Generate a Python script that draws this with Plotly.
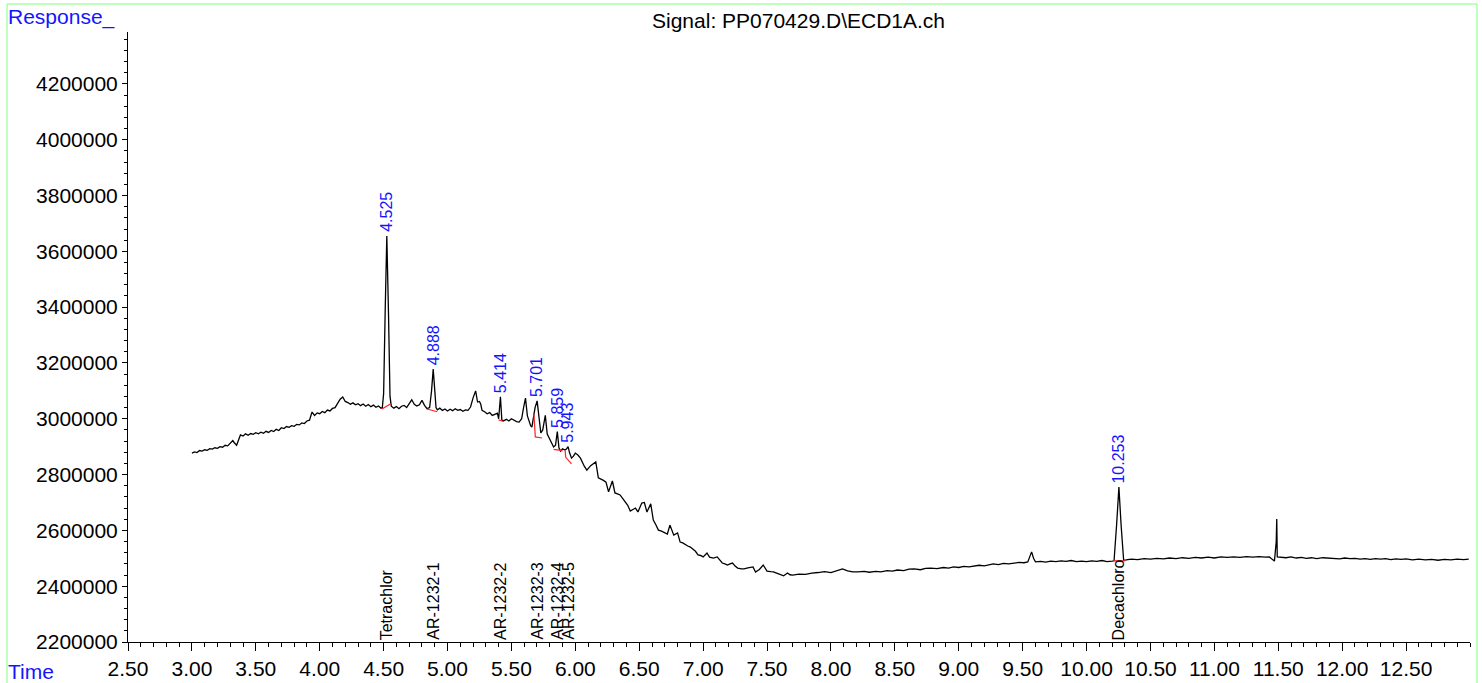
import plotly.graph_objects as go

# ---------------- data ----------------
time_min = [
    3.00, 3.02, 3.04, 3.06, 3.08, 3.10, 3.12, 3.14, 3.16, 3.18, 3.20, 3.22, 3.24, 3.26, 3.28, 3.30,
    3.32, 3.33, 3.35, 3.37, 3.38, 3.40, 3.42, 3.44, 3.46, 3.48, 3.50, 3.52, 3.54, 3.56, 3.58, 3.60,
    3.62, 3.64, 3.66, 3.68, 3.70, 3.72, 3.74, 3.76, 3.78, 3.80, 3.82, 3.84, 3.86, 3.88, 3.90, 3.92,
    3.94, 3.96, 3.98, 4.00, 4.02, 4.04, 4.06, 4.08, 4.10, 4.12, 4.14, 4.16, 4.18, 4.20, 4.22, 4.24,
    4.26, 4.28, 4.30, 4.32, 4.34, 4.36, 4.38, 4.40, 4.42, 4.44, 4.46, 4.48, 4.49, 4.50, 4.512, 4.525,
    4.538, 4.55, 4.56, 4.58, 4.60, 4.62, 4.64, 4.66, 4.68, 4.70, 4.72, 4.74, 4.76, 4.78, 4.80, 4.82,
    4.84, 4.86, 4.875, 4.888, 4.90, 4.91, 4.92, 4.94, 4.96, 4.98, 5.00, 5.02, 5.04, 5.06, 5.08, 5.10,
    5.12, 5.14, 5.16, 5.18, 5.20, 5.22, 5.235, 5.25, 5.26, 5.27, 5.29, 5.31, 5.33, 5.35, 5.37, 5.39,
    5.40, 5.414, 5.425, 5.44, 5.46, 5.48, 5.50, 5.52, 5.54, 5.56, 5.58, 5.595, 5.61, 5.625, 5.635, 5.65,
    5.66, 5.675, 5.685, 5.701, 5.715, 5.73, 5.745, 5.765, 5.78, 5.79, 5.81, 5.83, 5.845, 5.859, 5.872, 5.885,
    5.90, 5.92, 5.932, 5.943, 5.955, 5.97, 5.985, 6.00, 6.02, 6.04, 6.07, 6.09, 6.12, 6.135, 6.16, 6.18,
    6.20, 6.22, 6.24, 6.26, 6.29, 6.31, 6.33, 6.35, 6.37, 6.39, 6.41, 6.43, 6.45, 6.47, 6.49, 6.52,
    6.54, 6.56, 6.59, 6.61, 6.63, 6.65, 6.67, 6.69, 6.72, 6.74, 6.77, 6.80, 6.82, 6.84, 6.86, 6.88,
    6.90, 6.92, 6.94, 6.96, 6.98, 7.00, 7.03, 7.05, 7.08, 7.11, 7.13, 7.15, 7.17, 7.19, 7.21, 7.23,
    7.25, 7.27, 7.30, 7.32, 7.35, 7.39, 7.41, 7.44, 7.47, 7.50, 7.53, 7.55, 7.58, 7.61, 7.63, 7.66,
    7.68, 7.70, 7.75, 7.80, 7.85, 7.90, 7.95, 8.00, 8.05, 8.09, 8.13, 8.17, 8.21, 8.26, 8.30, 8.35,
    8.39, 8.44, 8.48, 8.52, 8.57, 8.61, 8.65, 8.70, 8.74, 8.78, 8.83, 8.88, 8.92, 8.96, 9.00, 9.04,
    9.08, 9.12, 9.16, 9.20, 9.24, 9.27, 9.31, 9.35, 9.39, 9.43, 9.47, 9.51, 9.54, 9.555, 9.57, 9.585,
    9.60, 9.64, 9.68, 9.72, 9.76, 9.80, 9.84, 9.88, 9.92, 9.96, 10.00, 10.04, 10.08, 10.12, 10.16, 10.20,
    10.215, 10.235, 10.253, 10.27, 10.29, 10.31, 10.35, 10.40, 10.45, 10.50, 10.55, 10.60, 10.65, 10.70, 10.75, 10.80,
    10.85, 10.90, 10.95, 11.00, 11.05, 11.10, 11.15, 11.20, 11.25, 11.30, 11.35, 11.40, 11.43, 11.45, 11.47, 11.484,
    11.488, 11.492, 11.52, 11.56, 11.60, 11.64, 11.68, 11.72, 11.76, 11.80, 11.85, 11.90, 11.94, 11.98, 12.02, 12.06,
    12.10, 12.14, 12.18, 12.22, 12.26, 12.30, 12.34, 12.38, 12.42, 12.46, 12.50, 12.55, 12.60, 12.65, 12.70, 12.75,
    12.80, 12.85, 12.90, 12.95, 12.99,
]

response = [
    2877000, 2881000, 2879000, 2886000, 2884000, 2889000, 2887000, 2893000, 2891000, 2896000, 2894000, 2900000, 2898000, 2905000, 2903000, 2913000,
    2922000, 2915000, 2905000, 2930000, 2942000, 2938000, 2946000, 2941000, 2947000, 2944000, 2950000, 2946000, 2952000, 2948000, 2955000, 2951000,
    2958000, 2954000, 2962000, 2958000, 2968000, 2965000, 2972000, 2969000, 2975000, 2973000, 2980000, 2978000, 2985000, 2983000, 2992000, 2995000,
    3024000, 3012000, 3021000, 3018000, 3026000, 3022000, 3031000, 3028000, 3037000, 3040000, 3055000, 3070000, 3078000, 3062000, 3058000, 3052000,
    3057000, 3050000, 3054000, 3047000, 3053000, 3045000, 3051000, 3043000, 3049000, 3041000, 3046000, 3038000, 3040000, 3090000, 3380000, 3655000,
    3380000, 3080000, 3045000, 3038000, 3044000, 3036000, 3045000, 3048000, 3040000, 3055000, 3068000, 3052000, 3046000, 3050000, 3066000, 3048000,
    3036000, 3040000, 3100000, 3178000, 3090000, 3040000, 3032000, 3038000, 3030000, 3035000, 3028000, 3034000, 3029000, 3036000, 3030000, 3033000,
    3027000, 3032000, 3030000, 3042000, 3075000, 3100000, 3060000, 3062000, 3052000, 3030000, 3025000, 3018000, 3022000, 3012000, 3016000, 3020000,
    3000000, 3079000, 2995000, 2993000, 2998000, 2992000, 3000000, 2994000, 2990000, 2988000, 3000000, 3040000, 3074000, 3010000, 2994000, 2975000,
    2970000, 3020000, 3040000, 3064000, 3000000, 2949000, 2960000, 3012000, 2945000, 2935000, 2915000, 2899000, 2905000, 2954000, 2895000, 2884000,
    2892000, 2888000, 2892000, 2900000, 2878000, 2859000, 2866000, 2877000, 2870000, 2859000, 2830000, 2816000, 2832000, 2838000, 2845000, 2788000,
    2784000, 2779000, 2773000, 2738000, 2777000, 2734000, 2731000, 2727000, 2715000, 2702000, 2690000, 2669000, 2676000, 2680000, 2666000, 2698000,
    2700000, 2666000, 2695000, 2637000, 2620000, 2601000, 2598000, 2594000, 2587000, 2619000, 2583000, 2591000, 2558000, 2555000, 2548000, 2544000,
    2540000, 2533000, 2525000, 2512000, 2510000, 2505000, 2519000, 2504000, 2501000, 2505000, 2492000, 2483000, 2480000, 2476000, 2480000, 2483000,
    2472000, 2465000, 2462000, 2462000, 2466000, 2469000, 2451000, 2460000, 2476000, 2454000, 2452000, 2451000, 2446000, 2440000, 2437000, 2447000,
    2441000, 2440000, 2443000, 2442000, 2447000, 2449000, 2452000, 2449000, 2456000, 2462000, 2455000, 2451000, 2451000, 2453000, 2450000, 2453000,
    2451000, 2456000, 2454000, 2458000, 2456000, 2461000, 2462000, 2459000, 2464000, 2465000, 2463000, 2467000, 2465000, 2469000, 2467000, 2471000,
    2469000, 2472000, 2475000, 2473000, 2478000, 2480000, 2477000, 2482000, 2480000, 2483000, 2485000, 2484000, 2487000, 2505000, 2523000, 2500000,
    2487000, 2489000, 2486000, 2490000, 2488000, 2491000, 2489000, 2492000, 2488000, 2490000, 2488000, 2491000, 2489000, 2492000, 2488000, 2490000,
    2491000, 2620000, 2755000, 2620000, 2493000, 2494000, 2497000, 2495000, 2499000, 2497000, 2500000, 2498000, 2501000, 2499000, 2502000, 2500000,
    2503000, 2501000, 2504000, 2501000, 2505000, 2503000, 2505000, 2503000, 2506000, 2504000, 2506000, 2504000, 2505000, 2497000, 2490000, 2560000,
    2641000, 2505000, 2504000, 2502000, 2505000, 2501000, 2503000, 2500000, 2502000, 2499000, 2502000, 2500000, 2501000, 2498000, 2501000, 2499000,
    2500000, 2497000, 2499000, 2496000, 2499000, 2497000, 2499000, 2495000, 2498000, 2496000, 2498000, 2494000, 2497000, 2494000, 2496000, 2493000,
    2496000, 2494000, 2497000, 2495000, 2497000,
]

# integrated peaks (retention time, apex response, compound)
peak_rt = [4.525, 4.888, 5.414, 5.701, 5.859, 5.943, 10.253]
peak_apex = [3655000, 3178000, 3079000, 3064000, 2954000, 2900000, 2755000]
compound_names = ["Tetrachlor", "AR-1232-1", "AR-1232-2", "AR-1232-3", "AR-1232-4", "AR-1232-5", "Decachloro"]

# integration baselines (red)
baseline_t = [
    [4.487, 4.553],
    [4.84, 4.92],
    [5.40, 5.44],
    [5.675, 5.687, 5.74],
    [5.83, 5.90],
    [5.92, 5.925, 5.97],
    [10.21, 10.30],
]
baseline_v = [
    [3035000, 3053000],
    [3035000, 3025000],
    [2996000, 2990000],
    [3021000, 2935000, 2931000],
    [2890000, 2886000],
    [2886000, 2862000, 2838000],
    [2491000, 2491000],
]

x_ticks = [2.5, 3.0, 3.5, 4.0, 4.5, 5.0, 5.5, 6.0, 6.5, 7.0, 7.5, 8.0, 8.5, 9.0, 9.5, 10.0, 10.5, 11.0, 11.5, 12.0, 12.5]
y_ticks = [2200000, 2400000, 2600000, 2800000, 3000000, 3200000, 3400000, 3600000, 3800000, 4000000, 4200000]

FONT = "Arial, Liberation Sans, sans-serif"
BLUE = "#1414ff"
L, R, T, B = 128, 1470, 32, 642
PW, PH = R - L, B - T

fig = go.Figure()
fig.add_trace(go.Scatter(x=time_min, y=response, mode="lines",
                         line=dict(color="black", width=1.3), hoverinfo="skip", showlegend=False))
for bt, bv in zip(baseline_t, baseline_v):
    fig.add_trace(go.Scatter(x=bt, y=bv, mode="lines", line=dict(color="#ff2020", width=1.2),
                             hoverinfo="skip", showlegend=False))

# retention-time labels
for rt, ap in zip(peak_rt, peak_apex):
    fig.add_annotation(x=rt, y=ap, text=f"{rt:.3f}", textangle=-90, showarrow=False,
                       xanchor="center", yanchor="bottom", yshift=2,
                       font=dict(family=FONT, size=16, color=BLUE))
# compound names at the axis
for rt, name in zip(peak_rt, compound_names):
    fig.add_annotation(x=rt, y=2200000, text=name, textangle=-90, showarrow=False,
                       xanchor="center", yanchor="bottom", yshift=0,
                       font=dict(family=FONT, size=16, color="black"))

fig.add_annotation(xref="paper", yref="paper", x=(6 - L) / PW, y=(B - 17) / PH, text="Response_",
                   showarrow=False, xanchor="left", yanchor="middle",
                   font=dict(family=FONT, size=21, color=BLUE))
fig.add_annotation(xref="paper", yref="paper", x=(6 - L) / PW, y=(B - 671) / PH, text="Time",
                   showarrow=False, xanchor="left", yanchor="middle",
                   font=dict(family=FONT, size=21, color=BLUE))
fig.add_annotation(xref="paper", yref="paper", x=(798 - L) / PW, y=(B - 20) / PH,
                   text="Signal: PP070429.D\\ECD1A.ch", showarrow=False, xanchor="center", yanchor="middle",
                   font=dict(family=FONT, size=21, color="black"))

# green frame
fig.add_shape(type="rect", xref="paper", yref="paper",
              x0=(7 - L) / PW, x1=(1477 - L) / PW, y0=(B - 700) / PH, y1=(B - 4) / PH,
              line=dict(color="#7fff7f", width=1), fillcolor="rgba(0,0,0,0)", layer="below")

fig.update_layout(
    width=1482, height=683,
    margin=dict(l=L, r=1482 - R, t=T, b=683 - B, autoexpand=False),
    paper_bgcolor="white", plot_bgcolor="white",
    font=dict(family=FONT, size=21, color="black"),
    xaxis=dict(range=[2.5, 13.0], tickvals=x_ticks, ticktext=[f"{v:.2f}" for v in x_ticks],
               automargin=False,
               showline=True, linecolor="black", linewidth=1, ticks="outside", ticklen=8,
               tickcolor="black", showgrid=False, zeroline=False,
               minor=dict(dtick=0.1, tick0=2.5, ticks="outside", ticklen=4, tickcolor="black", showgrid=False),
               tickfont=dict(family=FONT, size=21)),
    yaxis=dict(range=[2200000, 4386000], tickvals=y_ticks, ticktext=[str(v) for v in y_ticks],
               automargin=False,
               showline=True, linecolor="black", linewidth=1, ticks="outside", ticklen=5,
               tickcolor="black", showgrid=False, zeroline=False,
               minor=dict(dtick=40000, tick0=2200000, ticks="outside", ticklen=3, tickcolor="black", showgrid=False),
               tickfont=dict(family=FONT, size=21)),
)

fig.write_html("out.html", config={"displayModeBar": False},
               post_script="document.body.style.margin='0';document.body.style.overflow='hidden';")
